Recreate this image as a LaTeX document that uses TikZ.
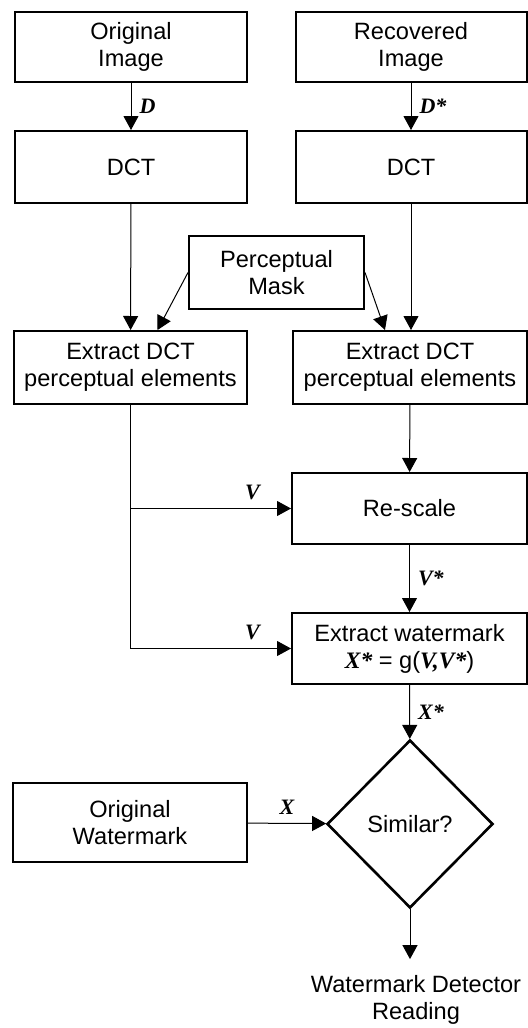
\documentclass[tikz,border=0pt]{standalone}
\usepackage{fontspec}
\setmainfont{Liberation Sans}
\newfontfamily\sigfont{Liberation Serif}
\usetikzlibrary{arrows.meta,shapes.geometric,positioning}
\tikzset{
	blok/.style={draw,line width=1pt,rectangle,minimum width=116pt,minimum height=36pt,inner sep=0pt,align=center,font=\fontsize{11.8}{13.5}\selectfont},
	dec/.style={draw,line width=1.3pt,diamond,minimum width=83pt,minimum height=84pt,inner sep=0pt,font=\fontsize{11.8}{13.5}\selectfont},
	diredge/.style={->,>={Triangle[width=7.5pt,length=7pt]},color=black,line width=0.5pt},
	siglabel/.style={inner sep=4pt,font=\sigfont\bfseries\itshape\fontsize{11}{11}\selectfont}
}
\newcommand{\sig}[1]{{\sigfont\bfseries\itshape #1}}

\begin{document}
\begin{tikzpicture}[x=0.5pt,y=-0.5pt]
	\useasboundingbox (0,0) rectangle (528,1028);
	%%%two inputs
	\node[blok,minimum height=35pt] (orig) at (131,47) {Original\\Image};
	\node[blok,minimum height=35pt,minimum width=115.5pt] (recv) at (411,47) {Recovered\\Image};
	\node[blok] (dctl) at (131,167) {DCT};
	\node[blok,minimum width=115.5pt] (dctr) at (411,167) {DCT};
	\node[blok,minimum width=87.5pt,minimum height=36.5pt] (mask) at (276.5,272.5) {Perceptual\\Mask};
	\node[blok,minimum width=116.5pt,minimum height=36.5pt] (extl) at (130.5,367.5) {Extract DCT\\perceptual elements};
	\node[blok,minimum width=117pt,minimum height=36.5pt] (extr) at (410,367.5) {Extract DCT\\perceptual elements};
	%%%detection side
	\node[blok,minimum width=117.5pt,minimum height=35.5pt] (resc) at (409.5,508.5) {Re-scale};
	\node[blok,minimum width=117.5pt,minimum height=35.5pt] (extw) at (409.5,648.5) {Extract watermark\\\sig{X*} = g(\sig{V,V*})};
	\node[dec] (sim) at (410,824) {Similar?};
	\node[blok,minimum width=117pt,minimum height=39.5pt] (ow) at (130,822.5) {Original\\Watermark};
	\node[align=center,inner sep=8pt,font=\fontsize{11.8}{13.5}\selectfont] (read) at (416,1000) {Watermark Detector\\Reading};
	
	\draw[diredge] (orig) -- (dctl) node[midway,right,siglabel] {D};
	\draw[diredge] (recv.south) -- (recv.south |- dctr.north) node[midway,right,siglabel] {D*};
	\draw[diredge] (dctl) -- (extl);
	\draw[diredge] (dctr.south) -- (dctr.south |- extr.north);
	\draw[diredge] (mask.west) -- ([xshift=13.5pt]extl.north);
	\draw[diredge] (mask.east) -- ([xshift=-12.5pt]extr.north);
	
	\draw[diredge] (extr) -- (resc);
	\draw[diredge] (extl.south) |- (resc.west) node[pos=0.88,above,siglabel] {V};
	\draw[diredge] (extl.south) |- (extw.west) node[pos=0.88,above,siglabel] {V};
	\draw[diredge] (resc) -- (extw) node[midway,right,siglabel] {V*};
	\draw[diredge] (extw) -- (sim) node[midway,right,siglabel] {X*};
	\draw[diredge] (ow) -- (sim) node[midway,above,siglabel] {X};
	\draw[diredge] (sim.south) -- (sim.south |- read.north);
\end{tikzpicture}
\end{document}
